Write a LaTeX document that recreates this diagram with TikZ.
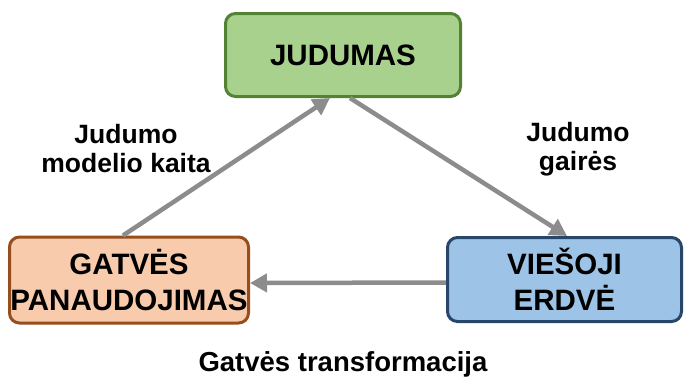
\documentclass[tikz,border=0pt]{standalone}
\usepackage{fontspec}
\setmainfont{Liberation Sans}
\usetikzlibrary{arrows.meta}
\definecolor{judfill}{RGB}{169,209,142}
\definecolor{judline}{RGB}{84,130,53}
\definecolor{gatfill}{RGB}{248,203,173}
\definecolor{gatline}{RGB}{150,78,28}
\definecolor{viefill}{RGB}{157,195,230}
\definecolor{vieline}{RGB}{40,70,105}
\definecolor{arrgray}{RGB}{140,140,140}
\begin{document}
\begin{tikzpicture}[x=1pt, y=-1pt,
    box/.style={draw, line width=3pt, rounded corners=10pt, align=center, inner sep=0pt,
        font=\fontsize{29.5}{36}\selectfont\bfseries},
    flow/.style={draw=arrgray, line width=4.5pt, -{Triangle[length=17pt,width=18pt]}},
    lbl/.style={align=center, font=\fontsize{26.5}{29}\selectfont\bfseries}]
    \useasboundingbox (0,0) rectangle (684,384);
        \node[box, fill=judfill, draw=judline, minimum width=235pt, minimum height=83pt] (jud) at (343,55) {JUDUMAS};
        \node[box, fill=gatfill, draw=gatline, minimum width=239pt, minimum height=86pt] (gat) at (129,280) {GATVĖS\\PANAUDOJIMAS};
        \node[box, fill=viefill, draw=vieline, minimum width=234pt, minimum height=84pt] (vie) at (564.5,279.5) {VIEŠOJI\\ERDVĖ};
        \draw[flow] ([xshift=-6pt]gat.north) -- ([xshift=-13pt]jud.south);
        \draw[flow] ([xshift=7pt]jud.south) -- ([xshift=2.5pt]vie.north);
        \draw[flow] ([yshift=-3pt]vie.west) -- ([yshift=-3pt]gat.east);
        \node[lbl] (lmod) at (126,149) {Judumo\\modelio kaita};
        \node[lbl] (lgai) at (578,149) {Judumo\\gairės};
        \node[lbl, font=\fontsize{27.5}{30}\selectfont\bfseries] (ltra) at (343,364) {Gatvės transformacija};
    \end{tikzpicture}
\end{document}
